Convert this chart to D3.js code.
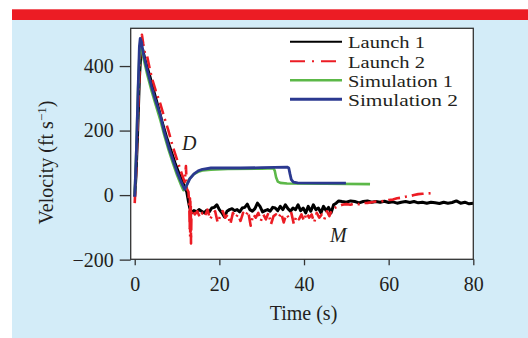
<!DOCTYPE html>
<html><head><meta charset="utf-8">
<script src="https://cdn.jsdelivr.net/npm/d3@7"></script>
<style>
html,body{margin:0;padding:0;background:#fff;}
svg{display:block;}
text{font-family:"Liberation Serif","Times New Roman",serif;fill:#231f20;}
</style></head>
<body>
<script>
// ---- data (time s, velocity ft/s) ----
const xTicks = [0, 20, 40, 60, 80];
const yTicks = [-200, 0, 200, 400];
const seriesNames = ["Launch 1", "Launch 2", "Simulation 1", "Simulation 2"];

const launch1 = [[0,-5],[0.3,60],[0.7,200],[1.1,360],[1.5,455],[1.9,450],[2.5,415],[3.5,372],[4.5,322],[5.5,275],[6.5,225],[7.5,180],[8.5,140],[9.5,100],[10.5,65],[11.5,35],[12.3,10],[12.7,-20],[13.0,-40],[13.5,-55],[14,-48],[14.6,-52],[15.2,-45],[15.8,-50],[16.4,-55],[17,-47],[17.6,-52],[18.2,-40],[18.8,-38],[19.4,-30],[20,-45],[20.6,-55],[21.2,-68],[21.8,-50],[22.4,-45],[23,-42],[23.6,-48],[24.2,-45],[24.8,-52],[25.4,-40],[26,-38],[26.6,-28],[27.2,-45],[27.8,-50],[28.4,-42],[29,-25],[29.6,-35],[30.2,-52],[30.8,-48],[31.4,-45],[32,-50],[32.6,-38],[33.2,-40],[33.8,-48],[34.4,-35],[35,-45],[35.6,-30],[36.2,-42],[36.8,-50],[37.4,-40],[38,-45],[38.6,-30],[39.2,-48],[39.8,-40],[40.4,-55],[41,-35],[41.6,-50],[42.2,-30],[42.8,-45],[43.4,-40],[44,-55],[44.6,-35],[45.2,-48],[45.8,-38],[46.4,-55],[47,-30],[47.6,-25],[48.2,-18],[49,-20],[50,-22],[51,-18],[52,-20],[53,-24],[54,-20],[55,-18],[56,-22],[57,-20],[58,-22],[59,-19],[60,-23],[61,-21],[62,-25],[63,-22],[64,-20],[65,-23],[66,-20],[67,-24],[68,-22],[69,-25],[70,-22],[71,-24],[72,-26],[73,-22],[74,-25],[75,-23],[76,-18],[77,-25],[78,-22],[79,-27],[80,-25]];

const launch2 = [[0,-25],[0.4,100],[0.9,300],[1.3,440],[1.7,497],[2.0,470],[2.4,440],[2.8,439],[3.5,395],[4,365],[5,322],[6,285],[7,240],[8,198],[9,150],[10,110],[11,70],[11.8,40],[12.1,90],[12.3,20],[12.7,10],[12.9,-40],[13.0,-110],[13.05,-10],[13.1,-130],[13.15,-20],[13.2,-120],[13.25,-30],[13.3,-150],[13.4,-60],[13.6,-45],[14.2,-60],[14.8,-50],[15.4,-70],[16,-55],[16.6,-65],[17.2,-45],[17.8,-75],[18.4,-60],[19,-50],[19.6,-85],[20.2,-65],[20.8,-50],[21.4,-70],[22,-60],[22.6,-90],[23.2,-55],[23.8,-70],[24.4,-60],[25,-80],[25.6,-55],[26.2,-65],[26.8,-50],[27.4,-95],[28,-60],[28.6,-70],[29.2,-55],[29.8,-80],[30.4,-60],[31,-75],[31.6,-55],[32.2,-90],[32.8,-65],[33.4,-60],[34,-70],[34.6,-55],[35.2,-85],[35.8,-60],[36.4,-70],[37,-55],[37.6,-90],[38.2,-65],[38.8,-75],[39.4,-60],[40,-80],[40.6,-55],[41.2,-70],[41.8,-60],[42.4,-85],[43,-55],[43.6,-70],[44.2,-60],[44.8,-75],[45.4,-50],[46,-65],[46.6,-45],[47.2,-40],[48,-35],[49,-30],[50,-28],[51,-30],[52,-26],[53,-28],[54,-25],[55,-24],[56,-22],[57,-20],[58,-20],[59,-18],[60,-15],[61,-14],[62,-10],[63,-8],[64,-5],[65,-3],[66,0],[67,3],[68,4],[69,5],[70,6]];

const simulation1 = [[0,0],[0.4,150],[0.8,330],[1.2,462],[1.4,468],[2,428],[3,372],[4,322],[5,278],[6,235],[7,185],[8,140],[9,100],[10,62],[11,30],[11.5,15],[12,22],[12.5,38],[13,52],[14,65],[15,72],[16,76],[18,79],[22,81],[30,82],[32.8,83],[33.1,75],[33.4,55],[33.8,42],[34.4,38],[36,36],[45,35],[55.6,34]];

const simulation2 = [[0,-5],[0.4,140],[0.8,330],[1.1,460],[1.3,486],[1.6,475],[2,440],[3,385],[4,335],[5,290],[6,250],[7,195],[8,150],[9,110],[10,72],[11,40],[11.8,18],[12.2,28],[13,50],[14,66],[15,75],[16,80],[18,84],[25,84],[30,85],[36,87],[36.4,84],[36.7,65],[37,48],[37.5,40],[38.5,38],[45,37],[49.9,37]];

const seriesData = [launch1, launch2, simulation1, simulation2];
const seriesColors = ["#000000", "#ec1c24", "#5cb848", "#2b3990"];

// ---- layout ----
const W = 528, H = 338;
const plot = {left:130.7, right:473.3, top:28.3, bottom:259.3};

const svg = d3.select("body").append("svg").attr("width", W).attr("height", H);

svg.append("rect").attr("x",12).attr("y",20).attr("width",W-12).attr("height",H-20).attr("fill","#d3ecf8");
svg.append("rect").attr("x",12).attr("y",9.3).attr("width",W-12).attr("height",10.7).attr("fill","#ec1c24");

svg.append("rect").attr("x",plot.left).attr("y",plot.top)
  .attr("width",plot.right-plot.left).attr("height",plot.bottom-plot.top).attr("fill","#fff");

const x = d3.scaleLinear().domain([-0.95, 80]).range([plot.left, plot.right]);
const y = d3.scaleLinear().domain([-199, 517]).range([plot.bottom, plot.top]);

svg.append("clipPath").attr("id","clip").append("rect")
  .attr("x",plot.left).attr("y",plot.top).attr("width",plot.right-plot.left).attr("height",plot.bottom-plot.top);

const line = d3.line().x(d=>x(d[0])).y(d=>y(d[1]));
const widths = [3, 2.6, 2.6, 2.8];
const dashes = [null, "12,5,2,5", null, null];
const g = svg.append("g").attr("clip-path","url(#clip)");
seriesData.forEach((s,i)=>{
  g.append("path").datum(s).attr("d",line).attr("fill","none")
    .attr("stroke",seriesColors[i]).attr("stroke-width",widths[i])
    .attr("stroke-linejoin","round")
    .attr("stroke-dasharray",dashes[i]);
});

// frame
svg.append("rect").attr("x",plot.left).attr("y",plot.top)
  .attr("width",plot.right-plot.left).attr("height",plot.bottom-plot.top)
  .attr("fill","none").attr("stroke","#333").attr("stroke-width",1.3);

// axes
const xAxis = d3.axisBottom(x).tickValues(xTicks).tickSize(6).tickPadding(12).tickSizeOuter(0);
const gx = svg.append("g").attr("transform",`translate(0,${plot.bottom})`).call(xAxis);
const yAxis = d3.axisLeft(y).tickValues(yTicks).tickSize(11).tickPadding(6)
  .tickFormat(d=> d<0 ? "\u2212"+Math.abs(d) : String(d)).tickSizeOuter(0);
const gy = svg.append("g").attr("transform",`translate(${plot.left},0)`).call(yAxis);
[gx,gy].forEach(a=>{
  a.select(".domain").remove();
  a.selectAll(".tick line").attr("stroke","#333").attr("stroke-width",1.3);
  a.selectAll(".tick text").attr("font-family","Liberation Serif").attr("font-size",20).attr("fill","#231f20");
});

// axis titles
svg.append("text").attr("x",303.5).attr("y",320).attr("text-anchor","middle")
  .attr("font-size",20).text("Time (s)");
const yl = svg.append("text").attr("transform","translate(53,162.5) rotate(-90)")
  .attr("text-anchor","middle").attr("font-size",20);
yl.append("tspan").text("Velocity (ft s");
yl.append("tspan").attr("font-size",13).attr("dy",-7).text("\u22121");
yl.append("tspan").attr("dy",7).text(")");

// annotations
svg.append("text").attr("x",182).attr("y",150).attr("font-size",20).attr("font-style","italic").text("D");
svg.append("text").attr("x",330).attr("y",241.5).attr("font-size",20).attr("font-style","italic").text("M");

// legend
const legY = [41.7, 61.2, 80.3, 99.2];
const legW = [2, 2, 2.5, 3];
seriesNames.forEach((n,i)=>{
  svg.append("line").attr("x1",290).attr("x2",342).attr("y1",legY[i]).attr("y2",legY[i])
    .attr("stroke",seriesColors[i]).attr("stroke-width",legW[i])
    .attr("stroke-dasharray", i===1 ? "15,7,2,7" : null);
  svg.append("text").attr("x",348).attr("y",legY[i]+6.5).attr("font-size",17)
    .attr("textLength", [77,77,105,110][i]).attr("lengthAdjust","spacingAndGlyphs").text(n);
});
</script>
</body></html>
